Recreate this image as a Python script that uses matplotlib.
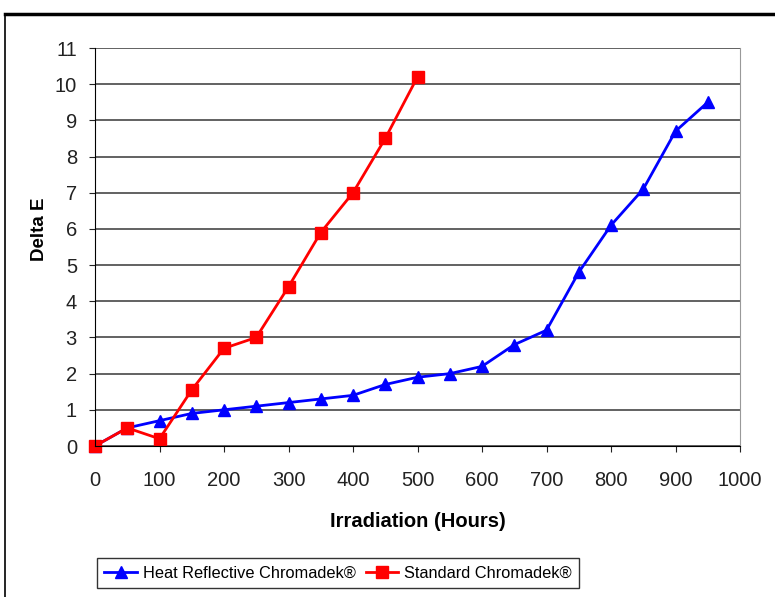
import matplotlib.pyplot as plt
from matplotlib.patches import Rectangle

plt.rcParams['font.family'] = ['Liberation Sans', 'DejaVu Sans']

hours = [0, 50, 100, 150, 200, 250, 300, 350, 400, 450, 500, 550, 600, 650, 700, 750, 800, 850, 900, 950]
heat_reflective = [0, 0.5, 0.7, 0.9, 1.0, 1.1, 1.2, 1.3, 1.4, 1.7, 1.9, 2.0, 2.2, 2.8, 3.2, 4.8, 6.1, 7.1, 8.7, 9.5]
std_hours = [0, 50, 100, 150, 200, 250, 300, 350, 400, 450, 500]
standard = [0, 0.5, 0.2, 1.55, 2.7, 3.0, 4.4, 5.9, 7.0, 8.5, 10.2]

fig = plt.figure(figsize=(7.75, 5.97), dpi=100)
ax = fig.add_axes([95/775, 1-446/597, (740-95)/775, (446-48)/597])

# outer chart frame (cut off at right and bottom)
fig.patches.append(Rectangle((5/775, -0.1), 1.2, (1-14/597)+0.1, transform=fig.transFigure,
                             fill=False, edgecolor='black', linewidth=1.2, clip_on=False))
fig.add_artist(plt.Line2D([5/775, 1], [1-14/597, 1-14/597], transform=fig.transFigure,
                          color='black', linewidth=2.5))

ax.plot(hours, heat_reflective, color='#0000ff', marker='^', markersize=9, linewidth=2,
        label='Heat Reflective Chromadek®')
ax.plot(std_hours, standard, color='#ff0000', marker='s', markersize=8, linewidth=2,
        label='Standard Chromadek®')

ax.set_xlim(0, 1000)
ax.set_ylim(0, 11)
ax.set_xticks(range(0, 1001, 100))
ax.set_yticks(range(0, 12))
ax.grid(axis='y', color='#555555', linewidth=1.3)
ax.set_axisbelow(True)
ax.spines['right'].set_color('#999999')
ax.spines['top'].set_visible(False)
ax.spines['left'].set_color('black')
ax.spines['bottom'].set_color('black')
ax.tick_params(axis='x', direction='out', length=4, labelsize=14.5, pad=14, colors='#222222')
ax.tick_params(axis='y', direction='out', length=4, labelsize=14.5, pad=9, colors='#222222')
for m in ax.get_lines():
    m.set_clip_on(False)

ax.set_xlabel('Irradiation (Hours)', fontsize=14.5, fontweight='bold', labelpad=16)
ax.set_ylabel('Delta E', fontsize=13.5, fontweight='bold')
ax.yaxis.set_label_coords(-0.073, 0.545)

leg = fig.legend(loc='upper left', bbox_to_anchor=(97/775, 1-558/597), ncol=2,
                 fontsize=11.8, frameon=True, fancybox=False, edgecolor='black',
                 handlelength=2.0, columnspacing=0.6, handletextpad=0.35,
                 borderpad=0.45, borderaxespad=0)
leg.get_frame().set_linewidth(1)

fig.savefig('out.png', dpi=100)
